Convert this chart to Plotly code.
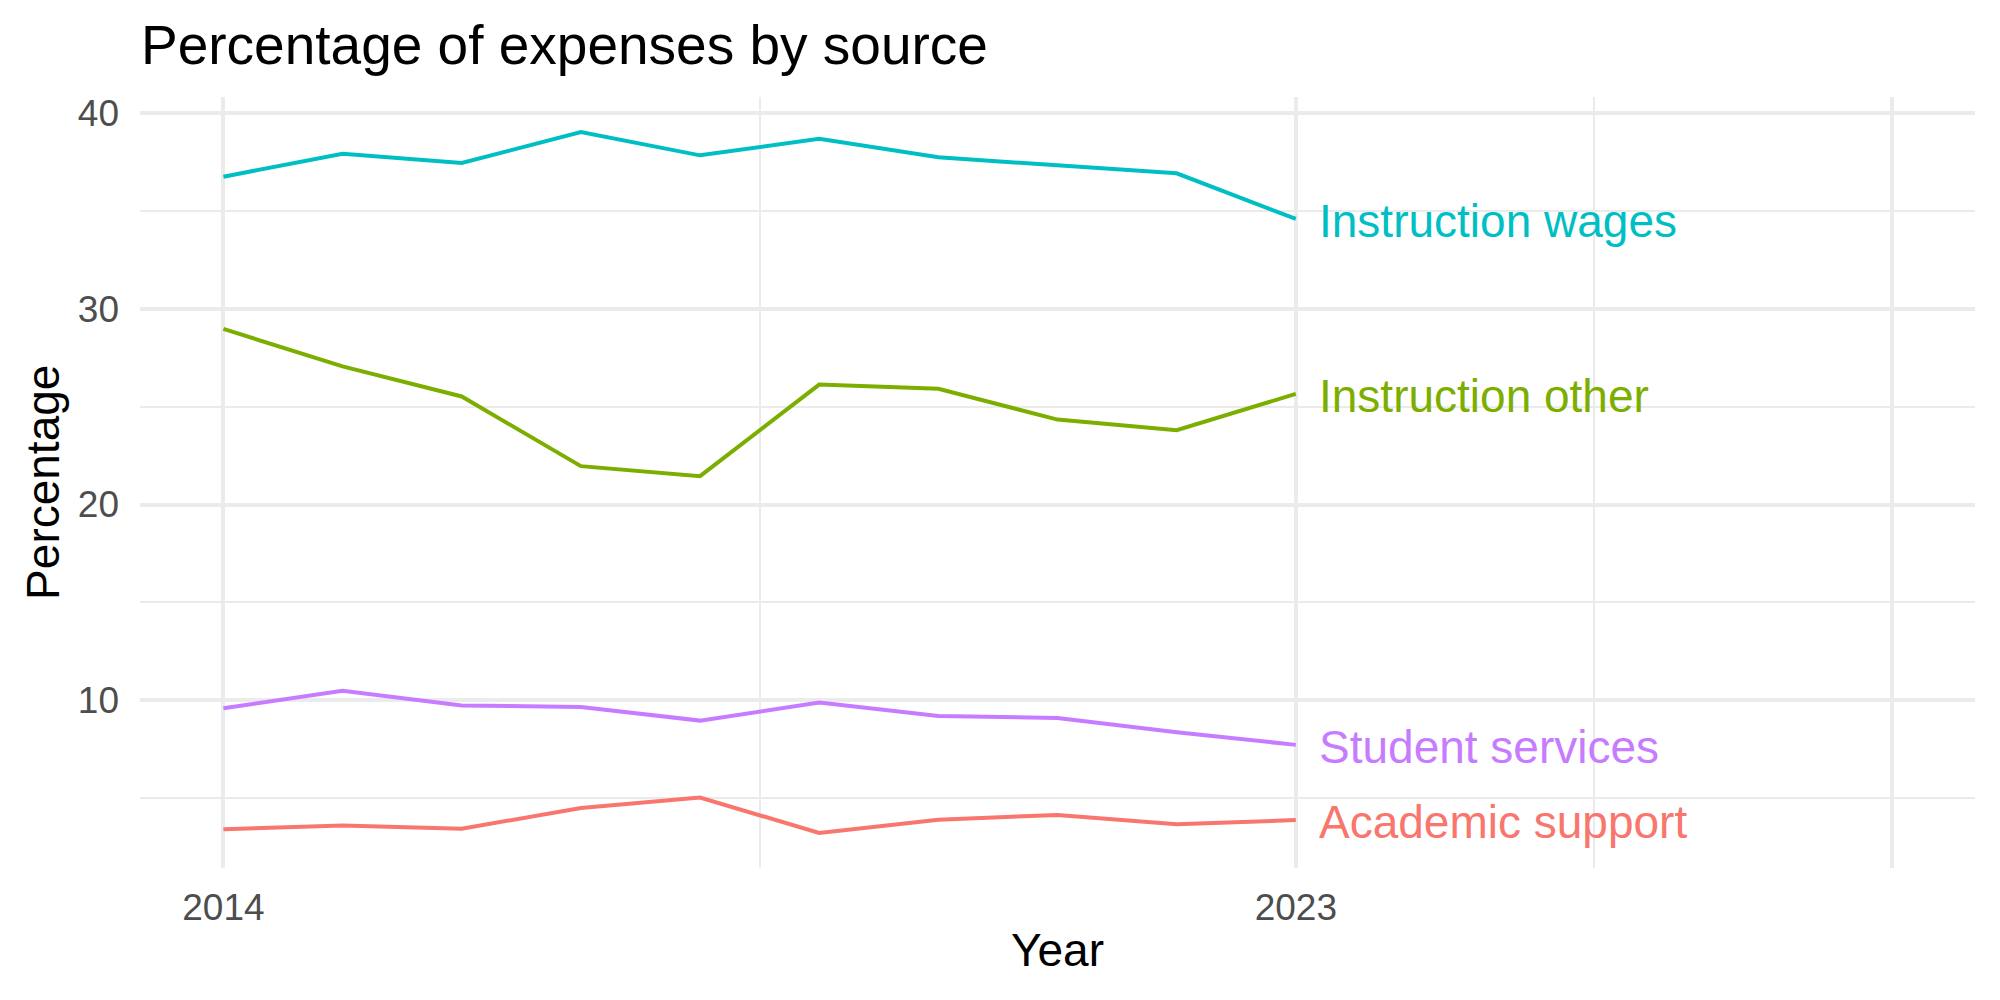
import plotly.graph_objects as go

years = [2014, 2015, 2016, 2017, 2018, 2019, 2020, 2021, 2022, 2023]
academic_support = [3.41, 3.60, 3.44, 4.49, 5.03, 3.22, 3.90, 4.14, 3.66, 3.88]
instruction_other = [28.97, 27.06, 25.52, 21.96, 21.45, 26.13, 25.91, 24.34, 23.80, 25.65]
instruction_wages = [36.75, 37.92, 37.45, 39.03, 37.84, 38.69, 37.74, 37.31, 36.92, 34.59]
student_services = [9.59, 10.48, 9.73, 9.66, 8.96, 9.88, 9.20, 9.09, 8.37, 7.72]

series_names = ["Academic support", "Instruction other", "Instruction wages", "Student services"]
series_values = [academic_support, instruction_other, instruction_wages, student_services]
series_colors = ["#F8766D", "#7CAE00", "#00BFC4", "#C77CFF"]

x_major = [2014, 2023, 2028]
x_major_labels = ["2014", "2023", ""]
x_minor = [2018.5, 2025.5]
y_major = [10, 20, 30, 40]
y_minor = [5, 15, 25, 35]

FONT = "Liberation Sans, Arial, Helvetica, sans-serif"
GRID = "#EBEBEB"

# ggplot-like 5% expansion
x_lo, x_hi = 2014, 2028
xpad = (x_hi - x_lo) * 0.05
all_vals = [v for s in series_values for v in s]
y_lo, y_hi = min(all_vals), max(all_vals)
ypad = (y_hi - y_lo) * 0.05

fig = go.Figure()
for name, vals, col in zip(series_names, series_values, series_colors):
    fig.add_trace(go.Scatter(x=years, y=vals, mode="lines", name=name,
                             line=dict(color=col, width=4), showlegend=False,
                             hoverinfo="skip"))
    fig.add_annotation(x=years[-1] + 0.18, y=vals[-1], text=name, showarrow=False,
                       xanchor="left", yanchor="middle", yshift=-2,
                       font=dict(family=FONT, size=46, color=col))

fig.add_annotation(xref="paper", yref="paper", x=0.5, y=-0.1067, text="Year",
                   showarrow=False, xanchor="center", yanchor="middle",
                   font=dict(family=FONT, size=46, color="black"))
fig.add_annotation(xref="paper", yref="paper", x=-0.0532, y=0.5, text="Percentage",
                   showarrow=False, xanchor="center", yanchor="middle", textangle=-90,
                   font=dict(family=FONT, size=46, color="black"))

fig.update_layout(
    width=2000, height=1000,
    margin=dict(l=139.6, r=25, t=97.4, b=132.2),
    paper_bgcolor="white", plot_bgcolor="white",
    title=dict(text="Percentage of expenses by source", x=0.0705, xanchor="left",
               xref="container", yref="container", y=0.955, yanchor="middle",
               font=dict(family=FONT, size=55, color="black")),
    xaxis=dict(range=[x_lo - xpad, x_hi + xpad], tickmode="array",
               tickvals=x_major, ticktext=x_major_labels,
               showgrid=True, gridcolor=GRID, gridwidth=4,
               zeroline=False, showline=False, ticks="",
               ticklabelstandoff=14,
               tickfont=dict(family=FONT, size=37, color="#4D4D4D"),
               minor=dict(tickvals=x_minor, showgrid=True, gridcolor=GRID, gridwidth=2, ticks="")),
    yaxis=dict(range=[y_lo - ypad, y_hi + ypad], tickmode="array",
               tickvals=y_major, ticktext=[str(v) for v in y_major],
               showgrid=True, gridcolor=GRID, gridwidth=4,
               zeroline=False, showline=False, ticks="",
               ticklabelstandoff=20,
               tickfont=dict(family=FONT, size=37, color="#4D4D4D"),
               minor=dict(tickvals=y_minor, showgrid=True, gridcolor=GRID, gridwidth=2, ticks="")),
)

fig.write_html("out.html")
